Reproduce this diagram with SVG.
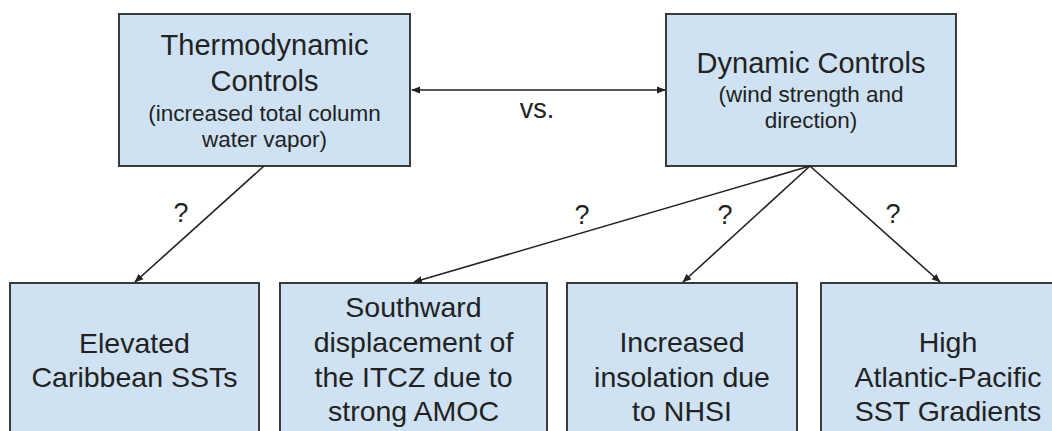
<svg xmlns="http://www.w3.org/2000/svg" width="1052" height="431" viewBox="0 0 1052 431">
<style>
.box{fill:#cfe2f3;stroke:#3a3a3a;stroke-width:2}
.t{font-family:"Liberation Sans",Arial,sans-serif;fill:#222;text-anchor:middle}
.big{font-size:29px}
.sub{font-size:22.5px}
.bot{font-size:28.5px}
.q{font-size:27px}
.c{stroke:#222;stroke-width:1.6;fill:none}
</style>
<defs>
<marker id="ah" viewBox="0 0 10 10" refX="9" refY="5" markerWidth="9" markerHeight="9" markerUnits="userSpaceOnUse" orient="auto-start-reverse">
<path d="M0,1 L10,5 L0,9 Z" fill="#222"/>
</marker>
</defs>
<rect width="1052" height="431" fill="#fff"/>
<g id="thermo">
<rect class="box" x="119" y="14" width="291" height="152"/>
<text class="t big" x="264.5" y="55">Thermodynamic</text>
<text class="t big" x="264.5" y="91">Controls</text>
<text class="t sub" x="264.5" y="121">(increased total column</text>
<text class="t sub" x="264.5" y="147">water vapor)</text>
</g>
<g id="dynamic">
<rect class="box" x="666" y="14" width="290" height="152"/>
<text class="t big" x="811" y="73">Dynamic Controls</text>
<text class="t sub" x="811" y="102">(wind strength and</text>
<text class="t sub" x="811" y="128">direction)</text>
</g>
<g id="caribbean">
<rect class="box" x="10" y="283" width="249" height="160"/>
<text class="t bot" x="134.5" y="353">Elevated</text>
<text class="t bot" x="134.5" y="387">Caribbean SSTs</text>
</g>
<g id="itcz">
<rect class="box" x="280" y="283" width="267" height="160"/>
<text class="t bot" x="413.5" y="317">Southward</text>
<text class="t bot" x="413.5" y="352">displacement of</text>
<text class="t bot" x="413.5" y="387">the ITCZ due to</text>
<text class="t bot" x="413.5" y="421">strong AMOC</text>
</g>
<g id="insolation">
<rect class="box" x="567" y="283" width="230" height="160"/>
<text class="t bot" x="682" y="352">Increased</text>
<text class="t bot" x="682" y="387">insolation due</text>
<text class="t bot" x="682" y="421">to NHSI</text>
</g>
<g id="gradients">
<rect class="box" x="821" y="283" width="250" height="160"/>
<text class="t bot" x="948" y="352">High</text>
<text class="t bot" x="948" y="387">Atlantic-Pacific</text>
<text class="t bot" x="948" y="421">SST Gradients</text>
</g>
<g id="connectors">
<line class="c" x1="412" y1="90" x2="665" y2="90" marker-start="url(#ah)" marker-end="url(#ah)"/>
<line class="c" x1="264" y1="166" x2="135" y2="282" marker-end="url(#ah)"/>
<line class="c" x1="810" y1="166" x2="414" y2="282" marker-end="url(#ah)"/>
<line class="c" x1="810" y1="166" x2="683" y2="282" marker-end="url(#ah)"/>
<line class="c" x1="810" y1="166" x2="940" y2="282" marker-end="url(#ah)"/>
<text class="t q" x="537" y="118">vs.</text>
<text class="t q" x="181" y="222">?</text>
<text class="t q" x="582" y="224">?</text>
<text class="t q" x="725" y="224">?</text>
<text class="t q" x="893" y="223">?</text>
</g>
</svg>
